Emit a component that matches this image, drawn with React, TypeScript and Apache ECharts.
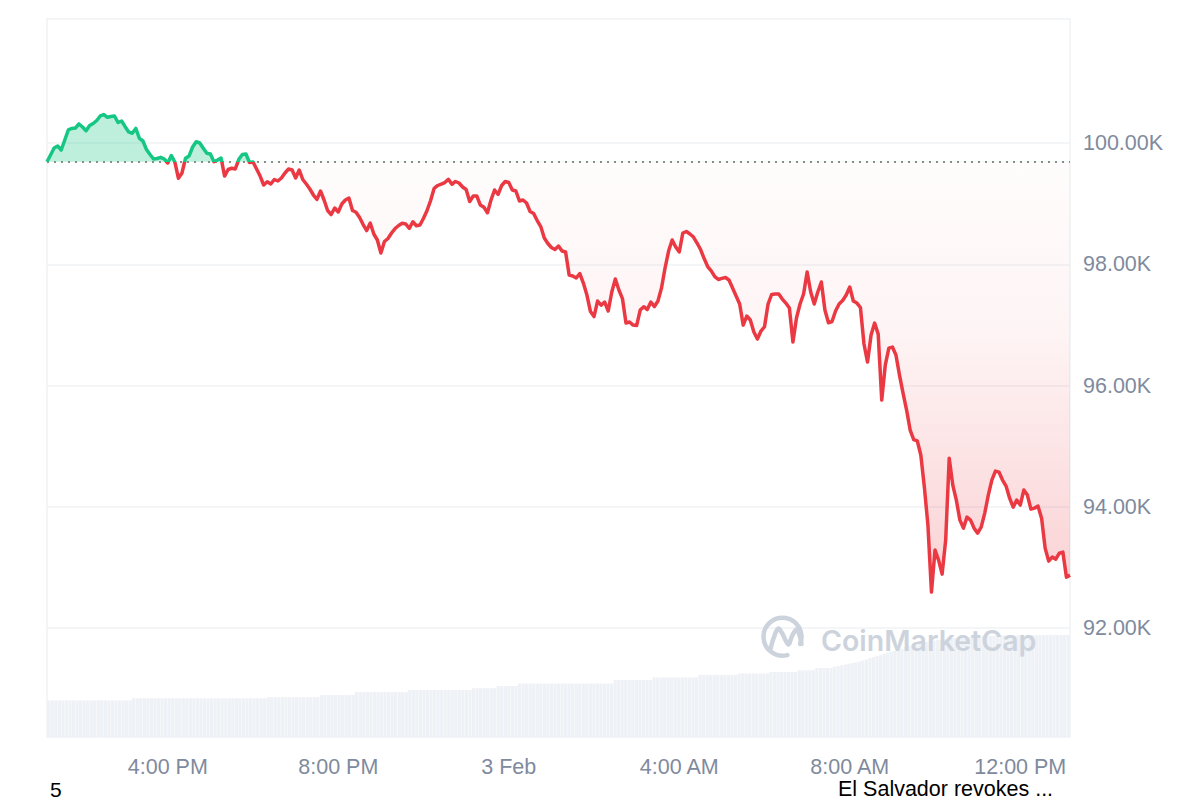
import React, { useEffect, useRef } from "react";
import * as echarts from "echarts";

// 24h of BTC price, 5-minute steps, from 13:10 on 2 Feb to 13:10 on 3 Feb
const START_MINUTE = 13 * 60 + 10;
const STEP_MINUTES = 5;

const prices: number[] = [
  99690, 99802, 99918, 99950, 99884, 100050, 100215, 100240, 100248, 100314,
  100264, 100203, 100289, 100322, 100371, 100446, 100470, 100424, 100437, 100446,
  100338, 100363, 100269, 100182, 100160, 100240, 100078, 100033, 99893, 99810,
  99736, 99744, 99764, 99736, 99670, 99794, 99686, 99418, 99505, 99748,
  99786, 99934, 100021, 100000, 99913, 99830, 99818, 99691, 99720, 99752,
  99455, 99563, 99583, 99571, 99731, 99810, 99818, 99678, 99686, 99571,
  99455, 99307, 99361, 99323, 99398, 99373, 99423, 99505, 99571, 99555,
  99423, 99555, 99398, 99323, 99241, 99142, 99071, 99208, 99060, 98886,
  98820, 98928, 98862, 98994, 99060, 99093, 98886, 98857, 98771, 98655,
  98556, 98680, 98499, 98400, 98185, 98375, 98425, 98515, 98589, 98639,
  98675, 98664, 98592, 98701, 98634, 98647, 98758, 98886, 99051, 99253,
  99299, 99323, 99348, 99401, 99319, 99365, 99340, 99274, 99233, 99035,
  99126, 99126, 98977, 98939, 98850, 99060, 99225, 99151, 99299, 99365,
  99348, 99225, 99208, 99043, 99060, 99010, 98870, 98837, 98721, 98622,
  98433, 98342, 98276, 98243, 98301, 98218, 98202, 97822, 97806, 97773,
  97847, 97690, 97492, 97220, 97137, 97393, 97327, 97377, 97229, 97542,
  97756, 97575, 97434, 97030, 97047, 96997, 96989, 97245, 97299, 97253,
  97377, 97302, 97393, 97608, 97938, 98218, 98400, 98284, 98202, 98515,
  98540, 98499, 98449, 98350, 98243, 98094, 97962, 97891, 97797, 97748,
  97767, 97781, 97740, 97608, 97476, 97344, 96996, 97146, 97080, 96882,
  96766, 96898, 96969, 97344, 97501, 97509, 97509, 97426, 97360, 97278,
  96717, 97113, 97344, 97509, 97872, 97542, 97344, 97542, 97707, 97245,
  97035, 97055, 97229, 97344, 97401, 97492, 97624, 97393, 97360, 97286,
  96684, 96386, 96832, 97030, 96848, 95760, 96337, 96617, 96634, 96502,
  96172, 95875, 95595, 95265, 95108, 95088, 94853, 94324, 93697, 92592,
  93285, 93120, 92888, 93450, 94802, 94357, 94110, 93779, 93648, 93829,
  93779, 93647, 93565, 93664, 93895, 94192, 94440, 94588, 94572, 94440,
  94341, 94142, 93994, 94110, 94027, 94275, 94192, 93961, 93977, 94010,
  93812, 93317, 93103, 93169, 93136, 93235, 93251, 92839, 92872,
];

// 24h volume (billion USD), same 5-minute steps
const volumes: number[] = [
  10.2, 10.2, 10.2, 10.2, 10.2, 10.2, 10.2, 10.2, 10.2, 10.2,
  10.2, 10.2, 10.2, 10.2, 10.2, 10.2, 10.2, 10.2, 10.2, 10.2,
  10.2, 10.2, 10.2, 10.2, 10.8, 10.8, 10.8, 10.8, 10.8, 10.8,
  10.8, 10.8, 10.8, 10.8, 10.8, 10.8, 10.8, 10.8, 10.8, 10.8,
  10.8, 10.8, 10.8, 10.8, 10.8, 10.8, 10.8, 10.8, 10.8, 10.8,
  10.8, 10.8, 10.8, 10.8, 10.8, 10.8, 10.8, 10.8, 10.8, 10.8,
  10.8, 10.8, 11.1, 11.1, 11.1, 11.1, 11.1, 11.1, 11.1, 11.1,
  11.1, 11.1, 11.1, 11.1, 11.1, 11.1, 11.1, 11.7, 11.7, 11.7,
  11.7, 11.7, 11.7, 11.7, 11.7, 11.7, 11.7, 12.5, 12.5, 12.5,
  12.5, 12.5, 12.5, 12.5, 12.5, 12.5, 12.5, 12.5, 12.5, 12.5,
  12.5, 12.5, 13.1, 13.1, 13.1, 13.1, 13.1, 13.1, 13.1, 13.1,
  13.1, 13.1, 13.1, 13.1, 13.1, 13.1, 13.1, 13.1, 13.1, 13.1,
  13.6, 13.6, 13.6, 13.6, 13.6, 13.6, 13.6, 14.2, 14.2, 14.2,
  14.2, 14.2, 14.2, 14.9, 14.9, 14.9, 14.9, 14.9, 14.9, 14.9,
  14.9, 14.9, 14.9, 14.9, 14.9, 14.9, 14.9, 14.9, 14.9, 14.9,
  14.9, 14.9, 14.9, 14.9, 14.9, 14.9, 14.9, 14.9, 14.9, 14.9,
  15.9, 15.9, 15.9, 15.9, 15.9, 15.9, 15.9, 15.9, 15.9, 15.9,
  15.9, 16.6, 16.6, 16.6, 16.6, 16.6, 16.6, 16.6, 16.6, 16.6,
  16.6, 16.6, 16.6, 16.6, 17.3, 17.3, 17.3, 17.3, 17.3, 17.3,
  17.3, 17.3, 17.3, 17.3, 17.3, 17.7, 17.7, 17.7, 17.7, 17.7,
  17.7, 17.7, 17.7, 17.7, 18.1, 18.1, 18.1, 18.1, 18.1, 18.1,
  18.1, 18.1, 18.6, 18.6, 18.6, 18.6, 18.6, 19.2, 19.2, 19.2,
  19.2, 19.2, 19.6, 19.8, 20.0, 20.2, 20.4, 20.6, 20.8, 21.0,
  21.3, 21.6, 22.0, 22.3, 22.6, 22.8, 23.2, 23.5, 23.8, 24.0,
  24.2, 24.6, 25.0, 25.3, 25.6, 25.9, 26.1, 26.3, 26.5, 26.7,
  26.8, 27.0, 27.1, 27.2, 27.4, 27.5, 27.6, 27.7, 27.8, 27.8,
  27.9, 28.0, 28.0, 28.1, 28.2, 28.2, 28.2, 28.2, 28.2, 28.3,
  28.3, 28.3, 28.3, 28.3, 28.3, 28.3, 28.3, 28.4, 28.4, 28.4,
  28.4, 28.4, 28.4, 28.4, 28.4, 28.4, 28.4, 28.4, 28.4,
];

const openPrice = 99690;
const xTickIndexes = [34, 82, 130, 178, 226, 274];
const xTickLabels = ["4:00 PM", "8:00 PM", "3 Feb", "4:00 AM", "8:00 AM", "12:00 PM"];
const yMin = 90000;
const yMax = 102000;
const yStep = 2000;
const volumeMax = 200;

const GREEN = "#16c784";
const RED = "#ea3943";
const LABEL_COLOR = "#808a9d";
const GRID_COLOR = "#eff2f5";
const MARK_COLOR = "#cdd3dc";
const FONT = "'Liberation Sans', Arial, sans-serif";

const categories = prices.map((_, i) => {
  const m = (START_MINUTE + i * STEP_MINUTES) % 1440;
  const h = Math.floor(m / 60);
  const mm = m % 60;
  return `${String(h).padStart(2, "0")}:${String(mm).padStart(2, "0")}`;
});

export default function App() {
  const ref = useRef<HTMLDivElement>(null);

  useEffect(() => {
    if (!ref.current) return;
    const chart = echarts.init(ref.current, null, { renderer: "svg" });

    const option: any = {
      animation: false,
      backgroundColor: "#ffffff",
      grid: [
        {
          left: 47,
          right: 130,
          top: 19,
          bottom: 63,
          show: true,
          borderColor: GRID_COLOR,
          borderWidth: 1.5,
          backgroundColor: "transparent",
        },
        { left: 47, right: 130, top: 21.75, bottom: 50.75 },
      ],
      xAxis: [
        {
          gridIndex: 0,
          type: "category",
          data: categories,
          boundaryGap: true,
          show: false,
        },
        {
          gridIndex: 1,
          type: "category",
          data: categories,
          boundaryGap: false,
          axisLine: { show: false },
          axisTick: { show: false },
          splitLine: { show: false },
          axisLabel: {
            interval: (i: number) => xTickIndexes.includes(i),
            formatter: (_v: string, i: number) => {
              const k = xTickIndexes.indexOf(i);
              return k >= 0 ? xTickLabels[k] : "";
            },
            color: LABEL_COLOR,
            fontSize: 21.5,
            lineHeight: 19,
            fontFamily: FONT,
            margin: 8,
          },
        },
      ],
      yAxis: [
        {
          gridIndex: 0,
          type: "value",
          min: 0,
          max: volumeMax,
          show: false,
          splitLine: { show: false },
        },
        {
          gridIndex: 1,
          type: "value",
          position: "right",
          min: yMin,
          max: yMax,
          interval: yStep,
          axisLine: { show: false },
          axisTick: { show: false },
          splitLine: {
            show: true,
            showMinLine: false,
            showMaxLine: false,
            lineStyle: { color: GRID_COLOR, width: 1.5 },
          },
          axisLabel: {
            showMinLabel: false,
            showMaxLabel: false,
            formatter: (v: number) => `${(v / 1000).toFixed(2)}K`,
            color: LABEL_COLOR,
            fontSize: 21.5,
            fontFamily: FONT,
            margin: 13,
          },
        },
      ],
      series: [
        {
          id: "volume",
          type: "bar",
          xAxisIndex: 0,
          yAxisIndex: 0,
          data: volumes,
          barCategoryGap: "10%",
          itemStyle: { color: "#eef1f5" },
          silent: true,
          z: 1,
        },
        {
          id: "price",
          type: "line",
          xAxisIndex: 1,
          yAxisIndex: 1,
          data: prices,
          showSymbol: false,
          symbol: "none",
          lineStyle: { width: 3.5, color: RED, join: "round" },
          areaStyle: { origin: openPrice, color: "rgba(234,57,67,0.1)" },
          z: 5,
          markLine: {
            silent: true,
            symbol: ["none", "none"],
            label: { show: false },
            lineStyle: { type: [2, 5], color: "#8c8c8c", width: 2 },
            data: [{ yAxis: openPrice }],
            z: 4,
          },
        },
      ],
      graphic: [
        {
          type: "arc",
          z: 10,
          silent: true,
          shape: {
            cx: 782.5,
            cy: 636.7,
            r: 19,
            startAngle: (75 * Math.PI) / 180,
            endAngle: (382 * Math.PI) / 180,
            clockwise: true,
          },
          style: { stroke: MARK_COLOR, lineWidth: 4.5, fill: "none", lineCap: "round" },
        },
        {
          type: "polyline",
          z: 10,
          silent: true,
          shape: {
            points: [
              [770.5, 649],
              [774, 637],
              [778.3, 628.5],
              [782, 633],
              [788.3, 644.5],
              [792, 636],
              [796.5, 629.5],
              [799.5, 635],
              [801.5, 644],
            ],
            smooth: 0.35,
          },
          style: { stroke: MARK_COLOR, lineWidth: 4.5, fill: "none", lineCap: "round", lineJoin: "round" },
        },
        {
          type: "text",
          z: 10,
          silent: true,
          style: {
            x: 821,
            y: 640,
            text: "CoinMarketCap",
            fill: MARK_COLOR,
            font: "600 28.5px Inter, 'Noto Sans', sans-serif",
            verticalAlign: "middle",
          },
        },
        {
          type: "text",
          z: 10,
          silent: true,
          style: {
            x: 50,
            y: 789,
            text: "5",
            fill: "#000000",
            font: `21px ${FONT}`,
            lineHeight: 19,
            verticalAlign: "middle",
          },
        },
        {
          type: "text",
          z: 10,
          silent: true,
          style: {
            x: 838,
            y: 789,
            text: "El Salvador revokes ...",
            fill: "#000000",
            font: `21.5px ${FONT}`,
            lineHeight: 19,
            verticalAlign: "middle",
          },
        },
      ],
    };

    chart.setOption(option);

    const pMax = Math.max(...prices);
    const pMin = Math.min(...prices);
    const yTop = chart.convertToPixel({ yAxisIndex: 1 }, pMax) as number;
    const yBot = chart.convertToPixel({ yAxisIndex: 1 }, pMin) as number;
    const yOpen = chart.convertToPixel({ yAxisIndex: 1 }, openPrice) as number;
    const f = Math.min(1, Math.max(0, (yOpen - yTop) / (yBot - yTop)));

    const lineColor = new echarts.graphic.LinearGradient(
      0, yTop, 0, yBot,
      [
        { offset: 0, color: GREEN },
        { offset: f, color: GREEN },
        { offset: f, color: RED },
        { offset: 1, color: RED },
      ],
      true
    );
    const areaColor = new echarts.graphic.LinearGradient(
      0, yTop, 0, yBot,
      [
        { offset: 0, color: "rgba(22,199,132,0.4)" },
        { offset: f, color: "rgba(22,199,132,0.4)" },
        { offset: f, color: "rgba(234,57,67,0.02)" },
        { offset: f + (1 - f) * 0.4, color: "rgba(234,57,67,0.08)" },
        { offset: 1, color: "rgba(234,57,67,0.33)" },
      ],
      true
    );

    chart.setOption({
      series: [
        { id: "volume" },
        {
          id: "price",
          lineStyle: { color: lineColor },
          areaStyle: { origin: openPrice, color: areaColor },
        },
      ],
    });

    return () => chart.dispose();
  }, []);

  return (
    <div
      ref={ref}
      style={{ position: "fixed", left: 0, top: 0, width: 1200, height: 800 }}
    />
  );
}
